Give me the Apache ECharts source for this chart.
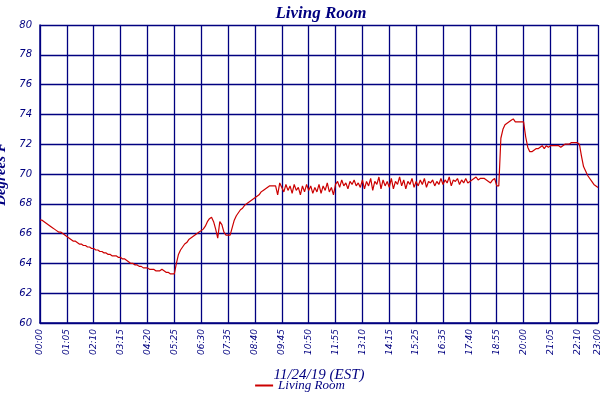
<!DOCTYPE html>
<html><head><meta charset="utf-8">
<script src="https://cdn.jsdelivr.net/npm/echarts@6/dist/echarts.min.js"></script>
<style>html,body{margin:0;padding:0;background:#fff}#c{width:600px;height:400px}</style>
</head><body><div id="c"></div>
<script>
const tickLabels = ["00:00","01:05","02:10","03:15","04:20","05:25","06:30","07:35","08:40","09:45","10:50","11:55","13:10","14:15","15:25","16:35","17:40","18:55","20:00","21:05","22:10","23:00"];
const stepsPerTick = 13;
const lastSteps = 10;
const temps = [
66.9,66.9,66.8,66.7,66.6,66.5,66.4,66.3,66.2,66.1,66.1,66.0,65.9,
65.8,65.7,65.6,65.5,65.5,65.4,65.3,65.3,65.2,65.2,65.1,65.1,65.0,
65.0,64.9,64.9,64.8,64.8,64.7,64.7,64.6,64.6,64.5,64.5,64.5,64.4,
64.4,64.3,64.3,64.2,64.1,64.0,64.0,63.9,63.9,63.8,63.8,63.7,63.7,
63.7,63.6,63.6,63.6,63.5,63.5,63.5,63.6,63.5,63.4,63.4,63.3,63.3,
63.3,64.0,64.6,64.9,65.1,65.3,65.4,65.6,65.7,65.8,65.9,66.0,66.1,
66.2,66.3,66.5,66.8,67.0,67.1,66.8,66.3,65.7,66.8,66.6,66.1,65.9,
65.9,65.9,66.4,66.9,67.2,67.4,67.6,67.7,67.9,68.0,68.1,68.2,68.3,
68.4,68.5,68.6,68.8,68.9,69.0,69.1,69.2,69.2,69.2,69.2,68.6,69.4,
69.1,68.8,69.3,68.9,69.2,68.7,69.3,68.9,69.1,68.6,69.2,68.8,69.3,
68.9,69.2,68.7,69.1,68.8,69.3,68.7,69.2,68.9,69.4,68.8,69.1,68.6,
69.3,69.5,69.1,69.6,69.2,69.4,69.0,69.5,69.3,69.6,69.2,69.4,69.1,
69.6,69.0,69.5,69.2,69.7,68.9,69.5,69.3,69.8,69.0,69.6,69.2,69.5,
69.1,69.7,69.0,69.5,69.3,69.8,69.2,69.6,69.0,69.5,69.3,69.7,69.1,
69.5,69.2,69.6,69.3,69.7,69.1,69.5,69.4,69.6,69.2,69.5,69.3,69.7,
69.3,69.6,69.4,69.8,69.2,69.6,69.5,69.7,69.3,69.6,69.4,69.7,69.4,
69.5,69.6,69.7,69.8,69.6,69.7,69.7,69.7,69.6,69.5,69.4,69.6,69.7,
69.2,69.2,72.4,73.0,73.3,73.4,73.5,73.6,73.7,73.5,73.5,73.5,73.5,
73.5,72.5,71.8,71.5,71.5,71.6,71.7,71.7,71.8,71.9,71.7,71.9,71.8,
71.9,71.9,71.9,71.9,71.9,71.8,71.9,72.0,72.0,72.0,72.1,72.1,72.1,
72.1,72.0,71.2,70.5,70.2,69.9,69.7,69.5,69.3,69.2,69.1
];
const yTicks = [60,62,64,66,68,70,72,74,76,78,80];

const total = (tickLabels.length - 2) * stepsPerTick + lastSteps;
const cats = [];
for (let i = 0; i <= total; i++) {
  let lab = '';
  if (i % stepsPerTick === 0 && i / stepsPerTick < tickLabels.length - 1) lab = tickLabels[i / stepsPerTick];
  if (i === total) lab = tickLabels[tickLabels.length - 1];
  cats.push(lab);
}
const isTick = (i) => cats[i] !== '';
const navy = '#000080';
const chart = echarts.init(document.getElementById('c'));
chart.setOption({
  animation: false,
  title: { text: 'Living Room', left: 316, top: 0, textAlign: 'center',
    textStyle: { color: navy, fontFamily: 'Liberation Serif', fontStyle: 'italic', fontWeight: 'bold', fontSize: 17 } },
  grid: { left: 40, right: 2, top: 25, bottom: 77, containLabel: false, outerBoundsMode: 'none' },
  legend: { bottom: 3, left: 'center', itemWidth: 18, itemHeight: 2, icon: 'rect',
    textStyle: { color: navy, fontFamily: 'Liberation Serif', fontStyle: 'italic', fontSize: 13 } },
  xAxis: {
    type: 'category', data: cats, boundaryGap: false,
    name: '11/24/19 (EST)', nameLocation: 'middle', nameGap: 45,
    nameTextStyle: { color: navy, fontFamily: 'Liberation Serif', fontStyle: 'italic', fontSize: 15 },
    axisLine: { lineStyle: { color: navy, width: 1.5 } },
    axisTick: { show: false },
    axisLabel: { interval: (i) => isTick(i), rotate: 90, color: navy, fontFamily: 'DejaVu Sans', fontStyle: 'italic', fontSize: 9, margin: 6 },
    splitLine: { show: true, interval: (i) => isTick(i), lineStyle: { color: navy, width: 1.3 } }
  },
  yAxis: {
    type: 'value', min: yTicks[0], max: yTicks[yTicks.length - 1], interval: 2,
    name: 'Degrees F', nameLocation: 'middle', nameGap: 28,
    nameTextStyle: { color: navy, fontFamily: 'Liberation Serif', fontStyle: 'italic', fontWeight: 'bold', fontSize: 15 },
    axisLine: { show: true, lineStyle: { color: navy, width: 1.5 } },
    axisTick: { show: false },
    axisLabel: { color: navy, fontFamily: 'DejaVu Sans', fontStyle: 'italic', fontSize: 10, margin: 8 },
    splitLine: { lineStyle: { color: navy, width: 1.3 } }
  },
  series: [{ name: 'Living Room', type: 'line', data: temps, showSymbol: false,
    lineStyle: { color: '#cc0000', width: 1.2 }, itemStyle: { color: '#cc0000' } }]
});
</script></body></html>
